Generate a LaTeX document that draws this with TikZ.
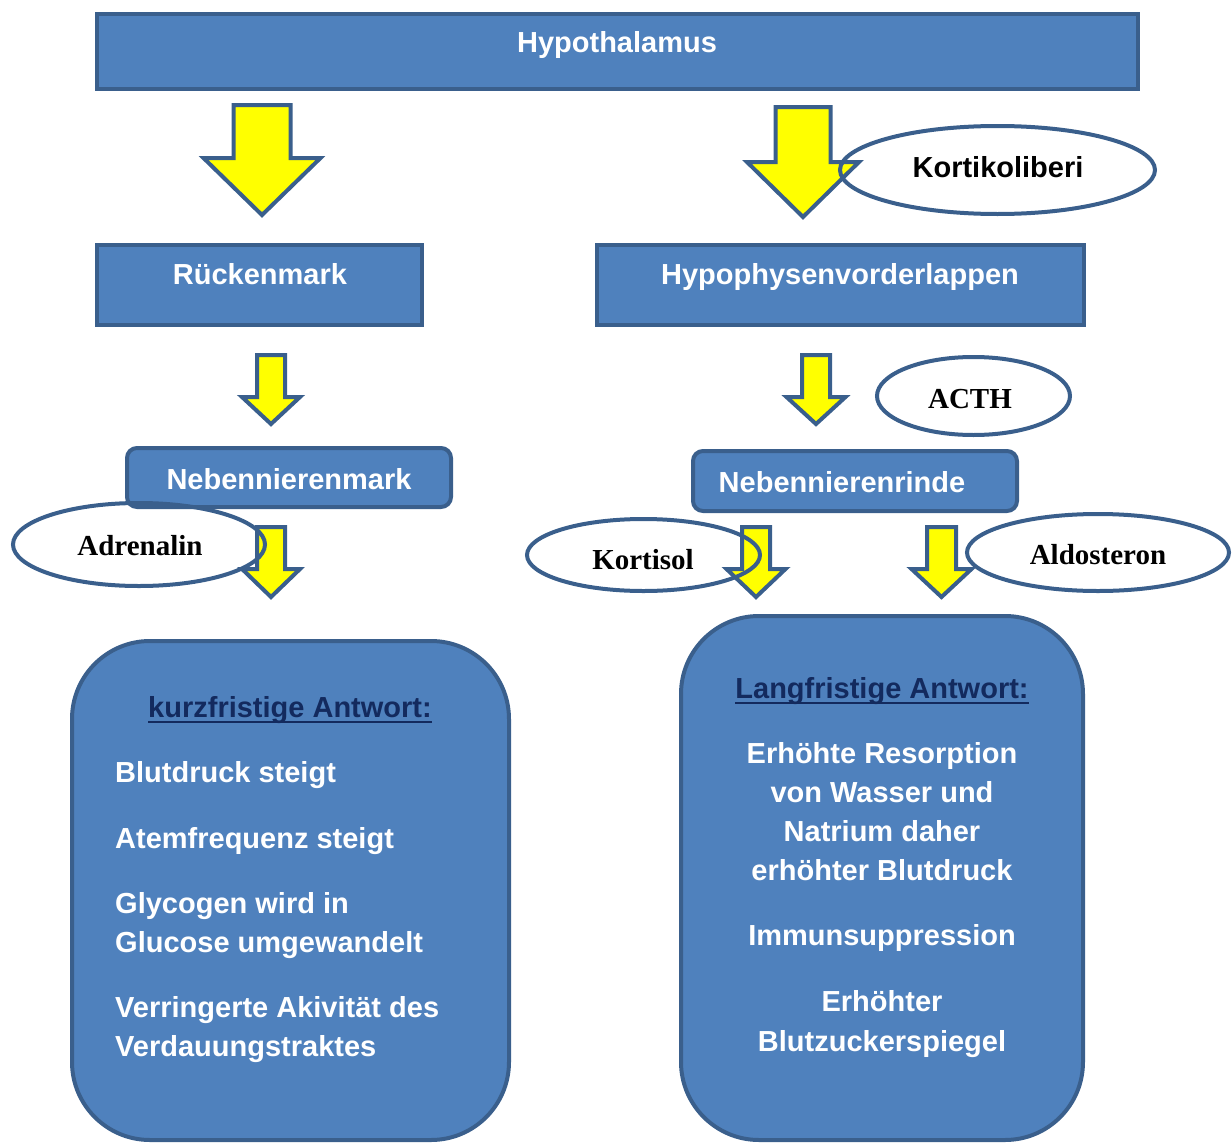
\documentclass[tikz,border=0pt]{standalone}
\usepackage{fontspec}
\setmainfont{Liberation Sans}
\newfontfamily\serifbold{Liberation Serif}
\usetikzlibrary{shapes.geometric}
\definecolor{boxfill}{HTML}{4F81BD}
\definecolor{boxline}{HTML}{3A5F8C}
\definecolor{titleblue}{HTML}{132A5E}
\definecolor{arrowyellow}{HTML}{FFFF00}
\newcommand{\blockarrow}[6]{%
  \draw[yarrow] (#1-#5,#2) -- (#1+#5,#2) -- (#1+#5,#3) -- (#1+#6,#3) -- (#1,#4)
    -- (#1-#6,#3) -- (#1-#5,#3) -- cycle;}
\begin{document}
\begin{tikzpicture}[x=1pt,y=-1pt,
  box/.style={rectangle, draw=boxline, fill=boxfill, line width=4pt, inner sep=0pt},
  rbox/.style={box, rounded corners=10pt},
  respbox/.style={box, rounded corners=78pt},
  btxt/.style={text=white, font=\fontsize{29}{35}\selectfont\bfseries, inner sep=0pt},
  ttxt/.style={text=titleblue, font=\fontsize{29}{35}\selectfont\bfseries, inner sep=0pt},
  otxt/.style={text=black, font=\fontsize{29}{35}\selectfont\serifbold\bfseries, inner sep=0pt},
  ktxt/.style={text=black, font=\fontsize{29}{35}\selectfont\bfseries, inner sep=0pt},
  oval/.style={ellipse, draw=boxline, line width=4pt, inner sep=0pt},
  yarrow/.style={draw=boxline, fill=arrowyellow, line width=4pt, miter limit=10},
  uline/.style={draw=titleblue, line width=2pt}]
\useasboundingbox (0,0) rectangle (1232,1143);
% boxes
\node[box, minimum width=1041pt, minimum height=75pt] (hyp) at (617.5,51.5) {};
\node[box, minimum width=325pt, minimum height=80pt] (rm) at (259.5,285) {};
\node[box, minimum width=487pt, minimum height=80pt] (hvl) at (840.5,285) {};
\node[rbox, minimum width=324pt, minimum height=59pt] (nnm) at (289,477.5) {};
\node[rbox, minimum width=324pt, minimum height=60pt] (nnr) at (855,481) {};
\node[respbox, minimum width=437pt, minimum height=499pt] (kurz) at (290.5,890.5) {};
\node[respbox, minimum width=402pt, minimum height=524pt] (lang) at (882,878) {};
% box texts
\node[btxt, anchor=base] (thyp) at (617,52) {Hypothalamus};
\node[btxt, anchor=base] (trm) at (260,284) {Rückenmark};
\node[btxt, anchor=base] (thvl) at (840,284) {Hypophysenvorderlappen};
\node[btxt, anchor=base] (tnnm) at (289,489) {Nebennierenmark};
\node[btxt, anchor=base] (tnnr) at (842,492) {Nebennierenrinde};
% arrows
\blockarrow{262}{105}{158}{215}{28.5}{58.5}
\blockarrow{803}{107}{162}{217}{27.5}{56}
\blockarrow{271}{355}{397}{424}{14}{29}
\blockarrow{816}{355}{397}{424}{14}{29.5}
\blockarrow{271}{527}{569}{597}{14}{29}
\blockarrow{756}{527}{569}{597}{14}{29.5}
\blockarrow{941.5}{527}{569}{597}{14.5}{30}
% ellipses
\node[oval, minimum width=315pt, minimum height=88pt] (okort) at (997.5,170) {};
\node[oval, minimum width=193pt, minimum height=78pt] (oacth) at (973.5,396) {};
\node[oval, minimum width=252pt, minimum height=83pt] (oadr) at (139,544.5) {};
\node[oval, minimum width=233pt, minimum height=72pt] (okrt) at (643.5,555) {};
\node[oval, minimum width=262pt, minimum height=77pt] (oald) at (1098,552.5) {};
\node[ktxt, anchor=base] (tkort) at (998,177) {Kortikoliberi};
\node[otxt, anchor=base] (tacth) at (970,408) {ACTH};
\node[otxt, anchor=base] (tadr) at (140,555) {Adrenalin};
\node[otxt, anchor=base] (tkrt) at (643,569) {Kortisol};
\node[otxt, anchor=base] (tald) at (1098,564) {Aldosteron};
% short-term response
\node[ttxt, anchor=base] (kt) at (290,717) {kurzfristige Antwort:};
\draw[uline] ([yshift=-5pt]kt.base west) -- ([yshift=-5pt]kt.base east);
\node[btxt, anchor=base west] (k1) at (115,782) {Blutdruck steigt};
\node[btxt, anchor=base west] (k2) at (115,848) {Atemfrequenz steigt};
\node[btxt, anchor=base west] (k3) at (115,913) {Glycogen wird in};
\node[btxt, anchor=base west] (k4) at (115,952) {Glucose umgewandelt};
\node[btxt, anchor=base west] (k5) at (115,1017) {Verringerte Akivität des};
\node[btxt, anchor=base west] (k6) at (115,1056) {Verdauungstraktes};
% long-term response
\node[ttxt, anchor=base] (lt) at (882,698) {Langfristige Antwort:};
\draw[uline] ([yshift=-5pt]lt.base west) -- ([yshift=-5pt]lt.base east);
\node[btxt, anchor=base] (g1) at (882,763) {Erhöhte Resorption};
\node[btxt, anchor=base] (g2) at (882,802) {von Wasser und};
\node[btxt, anchor=base] (g3) at (882,841) {Natrium daher};
\node[btxt, anchor=base] (g4) at (882,880) {erhöhter Blutdruck};
\node[btxt, anchor=base] (g5) at (882,945) {Immunsuppression};
\node[btxt, anchor=base] (g6) at (882,1011) {Erhöhter};
\node[btxt, anchor=base] (g7) at (882,1051) {Blutzuckerspiegel};
\end{tikzpicture}
\end{document}
